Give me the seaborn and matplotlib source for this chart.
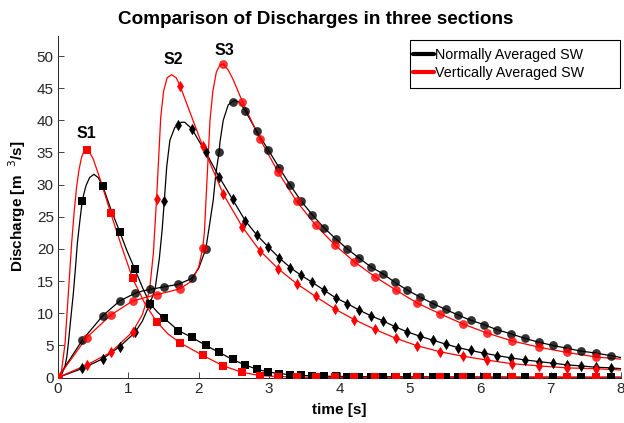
import numpy as np
import pandas as pd
import matplotlib
matplotlib.use("Agg")
import matplotlib.pyplot as plt
from matplotlib.lines import Line2D
from matplotlib.patches import Rectangle
import seaborn as sns

# ---------------- data ----------------
# marker times, black (Normally Averaged SW)
t_black = [0, 0.345, 0.635, 0.876, 1.094, 1.307, 1.51, 1.71, 1.90, 2.10,
           2.29, 2.48, 2.66, 2.822, 2.988, 3.144, 3.300, 3.452, 3.613, 3.778,
           3.944, 4.110, 4.276, 4.446, 4.621, 4.787, 4.962, 5.147, 5.327, 5.507,
           5.686, 5.866, 6.056, 6.245, 6.435, 6.629, 6.828, 7.027, 7.230, 7.434,
           7.642, 7.855]
q_black_s1 = [0, 27.5, 29.8, 22.7, 16.8, 11.5, 9.2, 7.3, 6.25, 5.0,
              3.9, 2.8, 1.95, 1.3, 0.85, 0.6, 0.45, 0.32, 0.27, 0.2,
              0.17, 0.15, 0.14, 0.13, 0.12, 0.11, 0.1, 0.1, 0.09, 0.09,
              0.08, 0.08, 0.07, 0.07, 0.07, 0.06, 0.06, 0.06, 0.05, 0.05,
              0.05, 0.05]
q_black_s2 = [0, 1.4, 2.9, 4.8, 7.0, 11.5, 27.4, 39.2, 38.7, 35.0,
              31.2, 27.7, 24.4, 22.2, 20.3, 18.6, 17.1, 15.9, 14.8, 13.6,
              12.4, 11.5, 10.5, 9.6, 8.8, 7.9, 7.1, 6.4, 5.8, 5.2,
              4.65, 4.2, 3.77, 3.4, 3.05, 2.74, 2.48, 2.23, 1.97, 1.8,
              1.6, 1.5]
q_black_s3 = [0, 5.8, 9.6, 11.9, 13.1, 13.7, 14.1, 14.5, 15.4, 20.0,
              35.1, 42.9, 41.5, 38.3, 35.4, 32.6, 29.9, 27.5, 25.3, 23.3,
              21.6, 20.0, 18.6, 17.2, 16.1, 14.8, 13.6, 12.5, 11.5, 10.6,
              9.7, 8.9, 8.2, 7.4, 6.8, 6.1, 5.5, 5.0, 4.55, 4.1,
              3.8, 3.4]

# marker times, red (Vertically Averaged SW)
t_red = [0, 0.407, 0.748, 1.06, 1.40, 1.733, 2.055, 2.35, 2.62, 2.87,
         3.13, 3.39, 3.66, 3.935, 4.21, 4.50, 4.80, 5.10, 5.43, 5.76,
         6.10, 6.45, 6.84, 7.23, 7.64]
q_red_s1 = [0, 35.4, 25.6, 15.4, 8.7, 5.4, 3.45, 1.8, 0.8, 0.3,
            0.15, 0.06, 0.03, 0.02, 0.02, 0.02, 0.02, 0.02, 0.02, 0.02,
            0.02, 0.02, 0.02, 0.02, 0.02]
q_red_s2 = [0, 1.95, 3.9, 7.1, 27.7, 45.4, 36.0, 28.5, 23.4, 19.7,
            16.9, 14.6, 12.6, 10.65, 9.0, 7.5, 6.1, 4.95, 4.0, 3.3,
            2.7, 2.15, 1.8, 1.5, 1.37]
q_red_s3 = [0, 6.2, 9.7, 11.9, 12.9, 13.8, 20.1, 48.75, 42.9, 37.1,
            31.9, 27.4, 23.7, 20.6, 18.0, 15.7, 13.6, 11.6, 9.9, 8.3,
            6.9, 5.7, 4.7, 3.9, 3.2]

# extra curve points between markers
kt_black_s1 = [0.05, 0.1, 0.125, 0.147, 0.18, 0.218, 0.25, 0.275, 0.31, 0.375, 0.4, 0.45, 0.51, 0.57, 0.75, 0.98, 1.2, 1.41, 8.0]
kq_black_s1 = [0.4, 1.8, 3.2, 5.3, 9.0, 13.1, 17.3, 20.9, 24.3, 28.9, 29.9, 31.1, 31.6, 31.1, 26.2, 19.7, 14.0, 10.2, 0.05]
kt_black_s2 = [1.2, 1.38, 1.44, 1.48, 1.545, 1.59, 1.66, 1.75, 1.80, 8.0]
kq_black_s2 = [8.8, 13.8, 18.5, 23.0, 32.8, 36.9, 38.9, 39.7, 39.7, 1.37]
kt_black_s3 = [1.2, 2.0, 2.15, 2.206, 2.244, 2.30, 2.348, 2.419, 2.515, 2.58, 8.0]
kq_black_s3 = [13.45, 17.0, 23.5, 27.6, 31.8, 36.5, 40.0, 42.4, 43.1, 42.8, 3.1]

kt_red_s1 = [0.05, 0.1, 0.147, 0.194, 0.23, 0.265, 0.3, 0.336, 0.37, 0.45, 0.5, 0.6, 0.9, 1.23, 1.56, 8.0]
kq_red_s1 = [1.0, 5.3, 13.1, 20.9, 25.8, 29.7, 32.4, 34.3, 35.2, 35.0, 34.0, 30.8, 20.5, 11.6, 6.8, 0.02]
kt_red_s2 = [1.2, 1.30, 1.355, 1.43, 1.46, 1.50, 1.55, 1.615, 1.68, 8.0]
kq_red_s2 = [9.8, 13.5, 19.3, 34.0, 40.5, 44.5, 46.6, 47.1, 46.6, 1.17]
kt_red_s3 = [1.23, 1.56, 1.9, 2.0, 2.08, 2.10, 2.13, 2.16, 2.20, 2.25, 2.30, 2.42, 2.49, 8.0]
kq_red_s3 = [12.4, 13.3, 15.0, 17.2, 22.5, 27.0, 33.5, 40.0, 44.5, 47.5, 48.6, 47.8, 46.3, 2.85]

legend_labels = ["Normally Averaged SW", "Vertically Averaged SW"]
section_labels = ["S1", "S2", "S3"]
section_label_pos = [(0.41, 38.0), (1.64, 49.4), (2.37, 50.9)]

# ---------------- figure ----------------
sns.set_theme(style="ticks")
plt.rcParams['font.family'] = ['Liberation Sans', 'DejaVu Sans']
plt.rcParams['text.color'] = 'black'
plt.rcParams['axes.labelcolor'] = 'black'

W, H = 624, 423
fig = plt.figure(figsize=(W / 100, H / 100), dpi=100)
x0, x1, y0, y1 = 58, 621, 377.5, 36
ax = fig.add_axes([x0 / W, 1 - y0 / H, (x1 - x0) / W, (y0 - y1) / H])

series = [
    ("black", t_black, q_black_s1, kt_black_s1, kq_black_s1, "s"),
    ("black", t_black, q_black_s2, kt_black_s2, kq_black_s2, "d"),
    ("black", t_black, q_black_s3, kt_black_s3, kq_black_s3, "o"),
    ("red", t_red, q_red_s1, kt_red_s1, kq_red_s1, "s"),
    ("red", t_red, q_red_s2, kt_red_s2, kq_red_s2, "d"),
    ("red", t_red, q_red_s3, kt_red_s3, kq_red_s3, "o"),
]

for color, tm, qm, kt, kq, mk in series:
    df = pd.DataFrame({"t": list(tm) + list(kt), "q": list(qm) + list(kq)}).sort_values("t")
    sns.lineplot(data=df, x="t", y="q", ax=ax, color=color, lw=0.9,
                 sort=True, estimator=None, legend=False)

for color, tm, qm, kt, kq, mk in series:
    dm = pd.DataFrame({"t": tm, "q": qm})
    size = {"s": 30, "d": 34, "o": 40}[mk]
    alpha = 0.8 if mk == "o" else 1.0
    sns.scatterplot(data=dm, x="t", y="q", ax=ax, color=color, marker=mk,
                    s=size, linewidth=0, alpha=alpha, legend=False, zorder=3)

ax.set_xlim(0, 8)
ax.set_ylim(0, (y0 - y1) / 6.43)
ax.set_xticks(range(0, 9))
ax.set_yticks(range(0, 51, 5))
ax.tick_params(direction="in", length=4, width=0.6, colors="#262626",
               labelsize=11, labelcolor="#262626", pad=3)
for s in ["top", "right"]:
    ax.spines[s].set_visible(False)
for s in ["left", "bottom"]:
    ax.spines[s].set_color("#262626")
    ax.spines[s].set_linewidth(0.7)

ax.set_xlabel("time [s]", fontsize=11, fontweight="bold", labelpad=5)
ax.set_ylabel("Discharge [m  $^{3}$/s]", fontsize=11, fontweight="bold", labelpad=6)

for lab, (tx, qy) in zip(section_labels, section_label_pos):
    ax.text(tx, qy, lab, fontsize=11.5, fontweight="bold", ha="center", va="center")

fig.text(316 / W, 1 - 19 / H, "Comparison of Discharges in three sections",
         fontsize=13.6, fontweight="bold", ha="center", va="center")

# legend: entries plus a separate frame box like the reference
handles = [Line2D([0], [0], color="black", lw=3),
           Line2D([0], [0], color="red", lw=3)]
leg = ax.legend(handles, legend_labels, loc="upper left",
                bbox_to_anchor=(413 / W, 1 - 48 / H), bbox_transform=fig.transFigure,
                fontsize=10.3, frameon=False, handlelength=1.5, handletextpad=0.05,
                borderpad=0.0, labelspacing=0.28, borderaxespad=0)
leg.set_zorder(10)
ax.add_patch(Rectangle((410 / W, 1 - 88 / H), 210 / W, 48 / H,
                       transform=fig.transFigure, clip_on=False, fill=True,
                       facecolor="white", edgecolor="black", linewidth=0.8, zorder=5))

fig.savefig("out.png", dpi=100)
